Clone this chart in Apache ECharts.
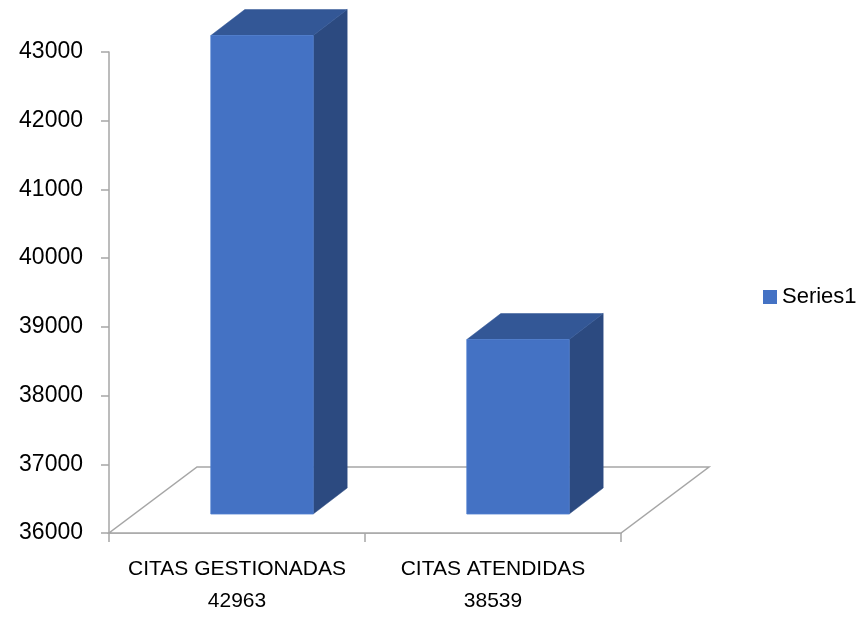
<!DOCTYPE html>
<html>
<head>
<meta charset="utf-8">
<script src="https://cdn.jsdelivr.net/npm/echarts@6/dist/echarts.min.js"></script>
<style>
  html, body { margin: 0; padding: 0; background: #fff; }
  #chart { width: 861px; height: 617px; }
</style>
</head>
<body>
<div id="chart"></div>
<script>
const categories = ['CITAS GESTIONADAS', 'CITAS ATENDIDAS'];
const values = [42963, 38539];
const yMin = 36000, yMax = 43000, yStep = 1000;
const seriesName = 'Series1';

const FONT = 'Liberation Sans';
const chart = echarts.init(document.getElementById('chart'));

function barItem(params, api) {
  const idx = api.value(0);
  const val = api.value(1);
  const base = api.coord([idx, yMin]);
  const top = api.coord([idx, val]);
  const band = api.size([1, 0])[0];
  const w = band * 0.4;
  const sx = 25, sy = -19;   // front face offset into depth
  const dx = 34, dy = -26;   // bar depth
  const cx = base[0] + sx;
  const x0 = cx - w / 2, x1 = cx + w / 2;
  const yT = top[1] + sy, yB = base[1] + sy;
  return {
    type: 'group',
    children: [
      { type: 'polygon', shape: { points: [[x1, yT], [x1 + dx, yT + dy], [x1 + dx, yB + dy], [x1, yB]] },
        style: { fill: '#2C4A80', stroke: '#2C4A80', lineWidth: 0.5 } },
      { type: 'polygon', shape: { points: [[x0, yT], [x0 + dx, yT + dy], [x1 + dx, yT + dy], [x1, yT]] },
        style: { fill: '#335796', stroke: '#335796', lineWidth: 0.5 } },
      { type: 'rect', shape: { x: x0, y: yT, width: w, height: yB - yT },
        style: { fill: '#4472C4', stroke: '#4F7FD0', lineWidth: 0.8 } }
    ]
  };
}

function floorItem(params, api) {
  const cs = params.coordSys;
  const fx = 88, fy = -66;
  const bl = [cs.x, cs.y + cs.height];
  const br = [cs.x + cs.width, cs.y + cs.height];
  return {
    type: 'polygon',
    shape: { points: [bl, br, [br[0] + fx, br[1] + fy], [bl[0] + fx, bl[1] + fy]] },
    style: { fill: '#fff', stroke: '#A6A6A6', lineWidth: 1.5 }
  };
}

chart.setOption({
  backgroundColor: '#fff',
  animation: false,
  grid: { left: 109, right: 240, top: 52, bottom: 81, containLabel: false },
  legend: {
    data: [seriesName],
    orient: 'vertical',
    left: 758, top: 281,
    itemWidth: 14, itemHeight: 14, itemGap: 6,
    icon: 'rect',
    textStyle: { fontFamily: FONT, fontSize: 22, color: '#000' }
  },
  xAxis: {
    type: 'category',
    data: categories,
    boundaryGap: true,
    axisLine: { show: true, lineStyle: { color: '#A6A6A6', width: 1.5 } },
    axisTick: { show: true, length: 9, lineStyle: { color: '#A6A6A6', width: 1.5 } },
    axisLabel: {
      interval: 0,
      fontFamily: FONT, fontSize: 21, color: '#000', lineHeight: 32, margin: 20,
      formatter: (v, i) => v + '\n' + values[i]
    },
    splitLine: { show: false }
  },
  yAxis: {
    type: 'value',
    min: yMin, max: yMax, interval: yStep,
    axisLine: { show: true, lineStyle: { color: '#A6A6A6', width: 1.5 } },
    axisTick: { show: true, length: 8, lineStyle: { color: '#A6A6A6', width: 1.5 } },
    axisLabel: { fontFamily: FONT, fontSize: 23, color: '#000', margin: 26, formatter: v => String(v) },
    splitLine: { show: false }
  },
  series: [
    {
      name: 'floor',
      type: 'custom',
      z: 1,
      silent: true,
      renderItem: floorItem,
      data: [[0, yMin]],
      encode: { x: 0, y: 1 }
    },
    {
      name: seriesName,
      type: 'custom',
      z: 3,
      itemStyle: { color: '#4472C4' },
      renderItem: barItem,
      data: categories.map((c, i) => [i, values[i]]),
      encode: { x: 0, y: 1 }
    }
  ]
});
</script>
</body>
</html>
